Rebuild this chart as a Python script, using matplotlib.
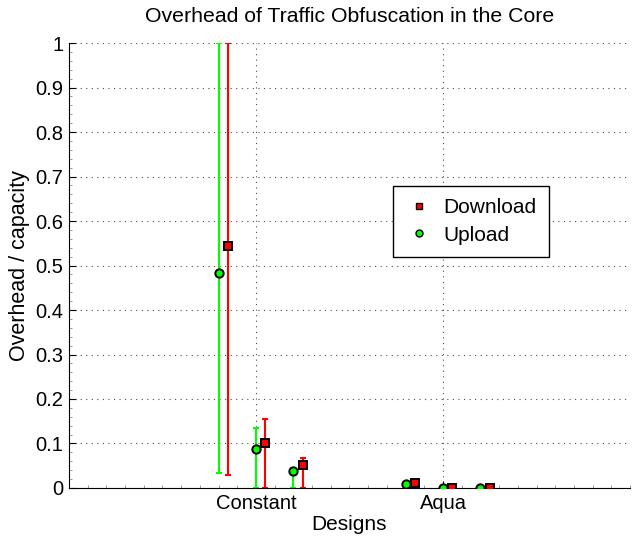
import matplotlib
matplotlib.use("Agg")
import matplotlib.pyplot as plt
from matplotlib.ticker import MultipleLocator
import numpy as np

plt.rcParams['font.family'] = ['Liberation Sans', 'DejaVu Sans']

designs = ["Constant", "Aqua"]
design_pos = [1, 2]

# x positions of each measurement (3 variants per design)
up_x = [0.80, 1.00, 1.20, 1.80, 2.00, 2.20]
down_x = [0.85, 1.05, 1.25, 1.85, 2.05, 2.25]

up_val = [0.483, 0.087, 0.038, 0.008, 0.001, 0.001]
up_lo = [0.034, 0.0, 0.0, 0.006, 0.0, 0.0]
up_hi = [1.0, 0.134, 0.046, 0.010, 0.002, 0.002]

down_val = [0.544, 0.102, 0.051, 0.011, 0.001, 0.001]
down_lo = [0.029, 0.0, 0.0, 0.009, 0.0, 0.0]
down_hi = [1.0, 0.155, 0.068, 0.013, 0.002, 0.002]

ytick_labels = ['0', '0.1', '0.2', '0.3', '0.4', '0.5', '0.6', '0.7', '0.8', '0.9', '1']

fig = plt.figure(figsize=(6.32, 5.36), dpi=100)
ax = fig.add_axes([0.109, 0.0896, 0.888, 0.830])

up_val_a = np.array(up_val)
down_val_a = np.array(down_val)
up_err = [up_val_a - np.array(up_lo), np.array(up_hi) - up_val_a]
down_err = [down_val_a - np.array(down_lo), np.array(down_hi) - down_val_a]

ax.errorbar(up_x, up_val, yerr=up_err, fmt='none', ecolor=(0, 1, 0),
            elinewidth=1.5, capsize=2.2, capthick=1.5, zorder=2)
ax.errorbar(down_x, down_val, yerr=down_err, fmt='none', ecolor=(1, 0, 0),
            elinewidth=1.5, capsize=2.2, capthick=1.5, zorder=2)
ax.plot(down_x, down_val, linestyle='none', marker='s', markersize=5.2,
        markerfacecolor=(1, 0, 0), markeredgecolor='black', markeredgewidth=1.4,
        label='Download', zorder=3)
ax.plot(up_x, up_val, linestyle='none', marker='o', markersize=6,
        markerfacecolor=(0, 1, 0), markeredgecolor='black', markeredgewidth=1.4,
        label='Upload', zorder=3)

ax.set_xlim(0, 3)
ax.set_ylim(0, 1)
ax.set_xticks(design_pos)
ax.set_xticklabels(designs, fontsize=14.5)
ax.set_yticks(np.arange(0, 1.01, 0.1))
ax.set_yticklabels(ytick_labels, fontsize=14.5)
ax.yaxis.set_minor_locator(MultipleLocator(0.02))
ax.xaxis.set_minor_locator(MultipleLocator(0.1))
ax.tick_params(which='both', direction='in')
ax.tick_params(which='major', length=5, pad=4)
ax.tick_params(which='minor', length=2, color='#888888')
ax.grid(True, which='major', linestyle=(0, (1, 4)), color='black', linewidth=0.8, alpha=0.7)
ax.spines['top'].set_visible(False)
ax.spines['right'].set_visible(False)

ax.set_title("Overhead of Traffic Obfuscation in the Core", fontsize=15.3, pad=15)
ax.set_xlabel("Designs", fontsize=15, labelpad=2)
ax.set_ylabel("Overhead / capacity", fontsize=15.5, labelpad=4)

leg = ax.legend(loc='upper left', bbox_to_anchor=(0.578, 0.679), fontsize=15,
                fancybox=False, edgecolor='black', framealpha=1,
                handlelength=1.3, handletextpad=0.5, borderpad=0.6,
                labelspacing=0.4, borderaxespad=0)
leg.get_frame().set_linewidth(1.0)
for h in leg.legend_handles:
    h.set_markersize(5)
    h.set_markeredgewidth(1.0)

fig.savefig("out.png", dpi=100)
